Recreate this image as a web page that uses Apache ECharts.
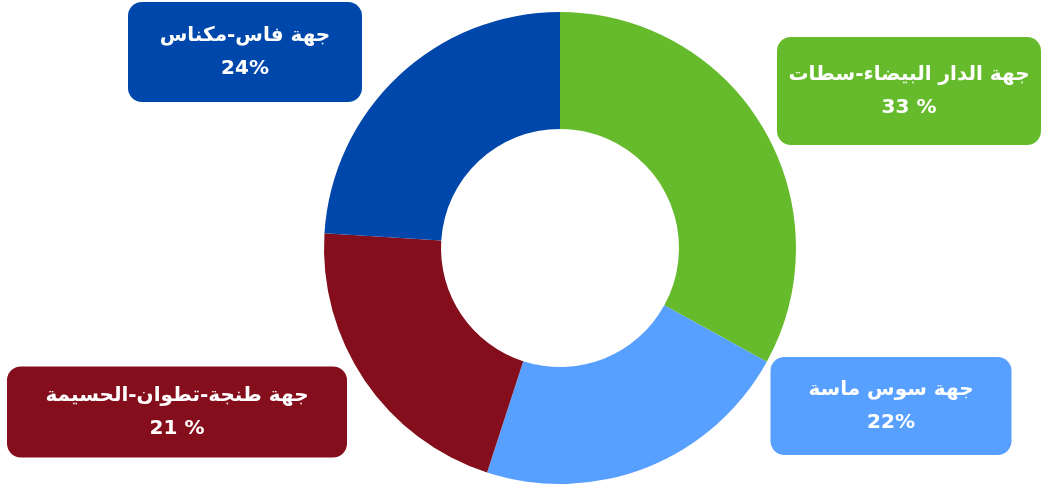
<!DOCTYPE html>
<html><head><meta charset="utf-8">
<script src="https://cdn.jsdelivr.net/npm/echarts@6/dist/echarts.min.js"></script>
<style>html,body{margin:0;padding:0;background:#fff}#c{width:1064px;height:488px}</style>
</head><body><div id="c"></div>
<script>
const regions = ['جهة الدار البيضاء-سطات', 'جهة سوس ماسة', 'جهة طنجة-تطوان-الحسيمة', 'جهة فاس-مكناس'];
const values = [33, 22, 21, 24];
const pctLabels = ['33 %', '22%', '21 %', '24%'];
const colors = ['#66BB2C', '#58A0FF', '#850E1D', '#0047AB'];
// label box geometry: [centerX, centerY, width, height]
const boxes = [[909, 91, 264, 108], [891, 406, 241, 98], [177, 412, 340, 91], [245, 52, 234, 100]];

const chart = echarts.init(document.getElementById('c'), null, {renderer: 'canvas'});
const data = regions.map((r, i) => {
  const pv = (boxes[i][3] - 66) / 2;
  return {
    name: r, value: values[i],
    itemStyle: {color: colors[i]},
    label: {
      backgroundColor: colors[i],
      width: boxes[i][2],
      padding: [pv + 2, 0, pv - 2, 0]
    }
  };
});
chart.setOption({
  animation: false,
  series: [{
    type: 'pie',
    center: [560, 248],
    radius: [119, 236],
    startAngle: 90,
    clockwise: true,
    avoidLabelOverlap: false,
    data: data,
    label: {
      show: true,
      position: 'outside',
      formatter: p => p.name + '\n' + pctLabels[p.dataIndex],
      color: '#fff',
      fontFamily: 'DejaVu Sans',
      fontWeight: 'bold',
      fontSize: 20,
      lineHeight: 33,
      align: 'center',
      borderRadius: 14
    },
    labelLine: {show: false},
    labelLayout: p => ({
      x: boxes[p.dataIndex][0],
      y: boxes[p.dataIndex][1],
      align: 'center',
      verticalAlign: 'middle'
    })
  }]
});
</script></body></html>
